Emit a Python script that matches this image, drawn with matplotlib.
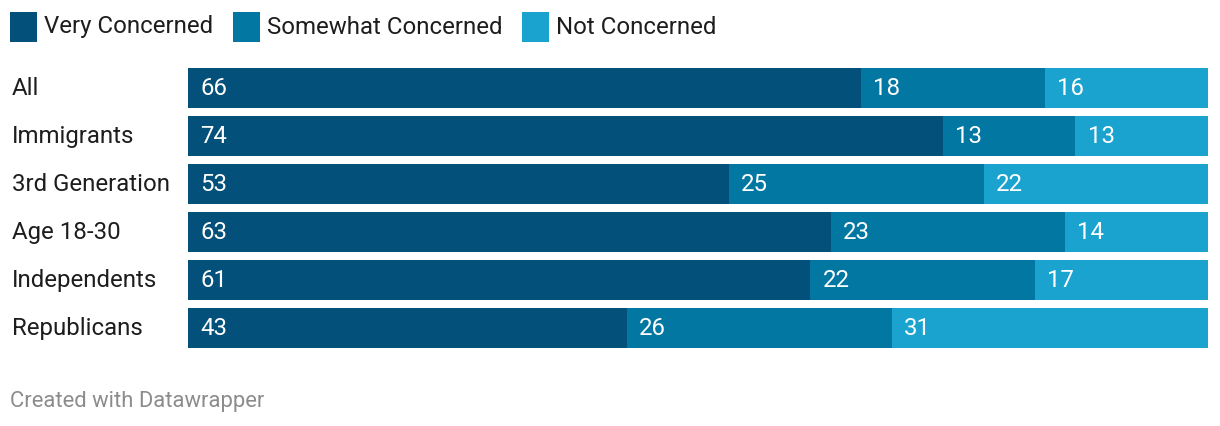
import matplotlib
matplotlib.use("Agg")
import matplotlib.pyplot as plt
from matplotlib.patches import Rectangle
import numpy as np

categories = ["All", "Immigrants", "3rd Generation", "Age 18-30", "Independents", "Republicans"]
very = [66, 74, 53, 63, 61, 43]
somewhat = [18, 13, 25, 23, 22, 26]
not_c = [16, 13, 22, 14, 17, 31]
series_names = ["Very Concerned", "Somewhat Concerned", "Not Concerned"]
colors = ["#03507a", "#0277a2", "#1ba3cf"]

plt.rcParams['font.family'] = ['Roboto', 'DejaVu Sans']

W, H = 1220, 426
fig = plt.figure(figsize=(W / 100, H / 100), dpi=100)

def fx(px):
    return px / W

def fy(py):
    return 1 - py / H

FS = 17.3

ax = fig.add_axes([fx(188), fy(348), fx(1208) - fx(188), fy(68) - fy(348)])
y = np.arange(len(categories))
left = np.zeros(len(categories))
for vals, col in zip([very, somewhat, not_c], colors):
    ax.barh(y, vals, left=left, height=40 / 48, color=col, edgecolor="none")
    for yi, (l, v) in enumerate(zip(left, vals)):
        ax.text(l + 1.2, yi + 0.02, str(v), color="white", fontsize=FS, va="center", ha="left")
    left = left + np.array(vals)

ax.set_xlim(0, 100)
ax.set_ylim(len(categories) - 1 + 0.5 * 40 / 48, -0.5 * 40 / 48)
ax.axis("off")

for yi, cat in enumerate(categories):
    ax.text(-176 / 10.2, yi + 0.02, cat, fontsize=FS, color="#1d1d1d", va="center", ha="left")

# legend
leg_x = [10, 233, 522]
for lx, name, col in zip(leg_x, series_names, colors):
    fig.patches.append(Rectangle((fx(lx), fy(42)), fx(27), 30 / H, transform=fig.transFigure,
                                 color=col, linewidth=0))
    fig.text(fx(lx + 34), fy(27), name, fontsize=FS, color="#1d1d1d", va="center", ha="left")

fig.text(fx(10), fy(401), "Created with Datawrapper", fontsize=15.8, color="#8c8c8c",
         va="center", ha="left")

fig.savefig("out.png", dpi=100, facecolor="white")
